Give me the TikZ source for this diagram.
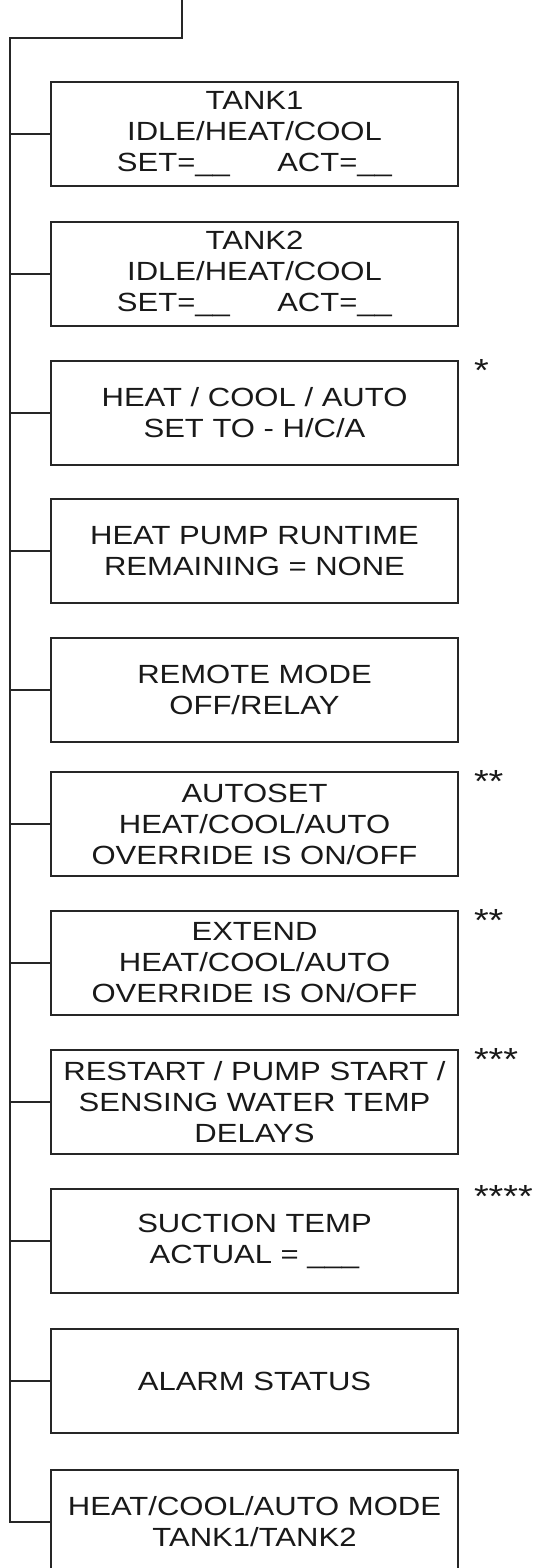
\documentclass[tikz,border=0pt]{standalone}
\usepackage{fontspec}
\setmainfont[FakeStretch=1.18]{Liberation Sans}
\begin{document}
\begin{tikzpicture}[x=1pt,y=1pt,
  line width=2pt, draw=black!85,
  menubox/.style={draw, line width=2pt, minimum width=407pt, minimum height=104pt,
    inner sep=0pt, anchor=north west, align=center, text=black!90,
    font=\fontsize{26.3}{31}\selectfont},
  star/.style={anchor=base west, inner sep=0pt, text=black!90, font=\fontsize{32}{32}\selectfont},
  wire/.style={line width=2pt, draw=black!85}]
\useasboundingbox (0,0) rectangle (537,-1568);
\clip (0,0) rectangle (537,-1568);
\fill[white] (0,0) rectangle (537,-1568);

\node[menubox] (b1) at (50,-81) {TANK1\\IDLE/HEAT/COOL\\SET=\_\_\hspace{1.8em}ACT=\_\_};
\node[menubox] (b2) at (50,-221) {TANK2\\IDLE/HEAT/COOL\\SET=\_\_\hspace{1.8em}ACT=\_\_};
\node[menubox] (b3) at (50,-360) {HEAT / COOL / AUTO\\SET TO - H/C/A};
\node[menubox] (b4) at (50,-498) {HEAT PUMP RUNTIME\\REMAINING = NONE};
\node[menubox] (b5) at (50,-637) {REMOTE MODE\\OFF/RELAY};
\node[menubox] (b6) at (50,-771) {AUTOSET\\HEAT/COOL/AUTO\\OVERRIDE IS ON/OFF};
\node[menubox] (b7) at (50,-910) {EXTEND\\HEAT/COOL/AUTO\\OVERRIDE IS ON/OFF};
\node[menubox] (b8) at (50,-1049) {RESTART / PUMP START /\\SENSING WATER TEMP\\DELAYS};
\node[menubox] (b9) at (50,-1188) {SUCTION TEMP\\ACTUAL = \_\_\_};
\node[menubox] (b10) at (50,-1328) {ALARM STATUS};
\node[menubox] (b11) at (50,-1469) {HEAT/COOL/AUTO MODE\\TANK1/TANK2};

\node[star] (s3) at (473,-381) {*};
\node[star] (s6) at (473,-792) {**};
\node[star] (s7) at (473,-931) {**};
\node[star] (s8) at (473,-1070) {***};
\node[star] (s9) at (473,-1207) {****};

\coordinate (top) at (182,0);
\coordinate (tl) at (9.5,-38);
\draw[wire] (top) |- (tl) -- (tl |- b11.west) -- (b11.west);
\foreach \b in {b1,b2,b3,b4,b5,b6,b7,b8,b9,b10}
  \draw[wire] (\b.west) -- (\b.west -| tl);
\end{tikzpicture}
\end{document}
